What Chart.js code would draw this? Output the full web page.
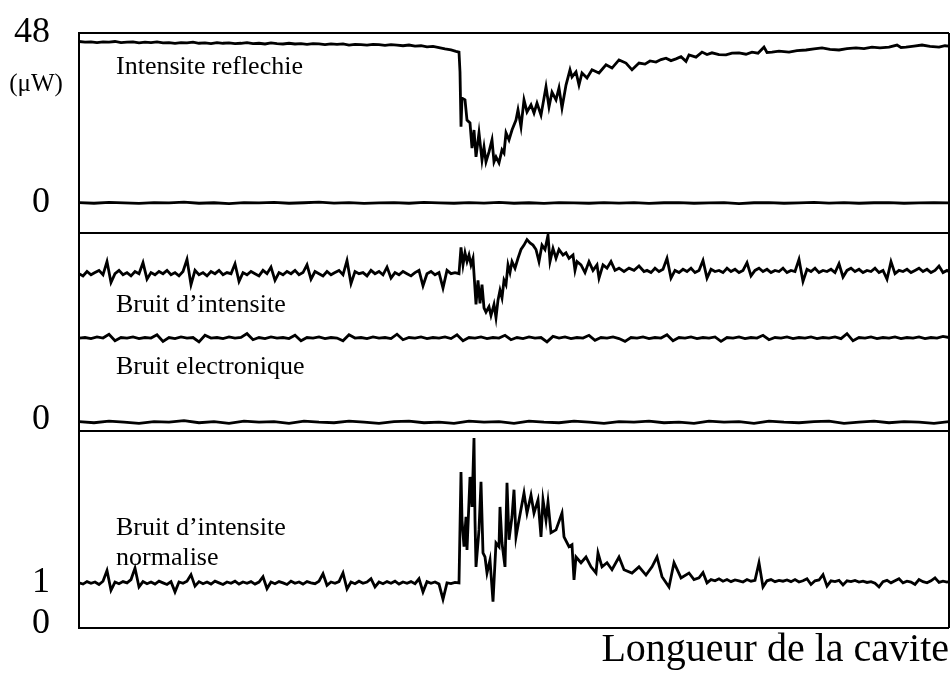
<!DOCTYPE html>
<html>
<head>
<meta charset="utf-8">
<title>Bruit d'intensite</title>
<style>
  * { margin: 0; padding: 0; box-sizing: border-box; }
  body { background: #fff; }
  #box { width: 951px; height: 675px; }
</style>
</head>
<body>
<div id="box"><canvas id="cavite"></canvas></div>
<script src="https://cdn.jsdelivr.net/npm/chart.js@4"></script>
<script>
// [position le long de la cavite, valeur] pour chaque trace

// panneau du haut : intensite reflechie (uW) et son zero
const reflechie = [
  [0,45.6],[6,45.4],[12,45.5],[18,45.3],[24,45.5],[30,45.4],[36,45.6],[42,45.3],[48,45.4],[54,45.5],
  [60,45.2],[66,45.4],[72,45.3],[78,45.5],[84,45.2],[90,45.3],[96,45.1],[102,45.3],[108,45.2],[114,45.4],
  [120,45.1],[126,45.2],[132,45.0],[138,45.3],[144,45.1],[150,45.2],[156,45.0],[162,45.1],[168,45.3],[174,45.0],
  [180,45.1],[186,44.9],[192,45.2],[198,45.0],[204,44.9],[210,45.1],[216,44.9],[222,45.0],[228,44.8],[234,45.0],
  [240,44.9],[246,44.7],[252,44.9],[258,44.8],[264,44.9],[270,44.6],[276,44.8],[282,44.7],[288,44.6],[294,44.8],
  [300,44.7],[306,44.5],[312,44.7],[318,44.6],[324,44.4],[330,44.6],[336,44.3],[342,44.4],[348,44.1],[354,44.2],
  [360,43.9],[366,43.5],[372,43.2],[377,42.8],
  [380,42.6],[381,37.0],[382,21.5],[383,29.6],[386,29.1],[388,23.4],[391,22.6],[393,15.5],[395,20.6],[397,13.0],
  [400,19.8],[403,12.1],[405,15.8],[407,11.6],[410,14.4],[413,17.8],[415,11.6],[417,13.0],[420,11.3],[423,15.0],
  [425,14.1],[427,19.8],[430,17.8],[433,20.6],[437,23.4],[439,26.3],[442,21.5],[445,29.1],[448,25.7],[452,27.7],
  [455,25.4],[458,28.2],[462,24.8],[467,32.8],[470,27.1],[473,31.3],[477,29.1],[480,32.5],[483,26.8],[487,33.3],
  [491,37.6],[493,35.6],[497,37.0],[500,33.3],[503,36.7],[508,35.3],[513,37.6],[520,36.7],[527,39.0],[533,38.1],
  [540,40.4],[547,39.5],[553,37.6],[560,39.5],[566,39.2],[571,40.1],[577,39.8],[582,40.5],[587,40.9],[592,40.2],
  [597,40.7],[602,41.3],[607,40.0],[610,41.8],[617,41.2],[623,42.6],[628,41.9],[633,42.4],[640,41.9],[647,41.8],
  [653,42.3],[660,42.4],[667,42.0],[673,42.6],[679,42.3],[685,44.0],[688,42.5],[693,42.6],[700,42.9],[710,42.6],
  [718,43.0],[727,43.2],[735,43.5],[743,43.8],[751,43.4],[760,43.2],[768,43.6],[777,43.8],[785,43.6],[793,44.0],
  [801,43.8],[810,44.0],[818,44.6],[822,43.9],[827,44.0],[835,44.3],[843,44.6],[851,44.2],[860,44.0],[866,44.4],
  [870,44.3]
];
const zeroHaut = [
  [0,0.1],[15,-0.1],[30,0.15],[45,0],[60,-0.15],[75,0.1],[90,0],[105,0.2],[120,-0.1],[135,0.05],
  [150,-0.2],[165,0.1],[180,0],[195,0.15],[210,-0.1],[225,0.05],[240,0.2],[255,-0.05],[270,0.1],[285,-0.15],
  [300,0],[315,0.1],[330,-0.1],[345,0.15],[360,0],[375,-0.1],[390,0.1],[405,-0.05],[420,0.15],[435,-0.1],
  [450,0.05],[465,-0.15],[480,0.1],[495,0],[510,-0.1],[525,0.1],[540,-0.05],[555,0.1],[570,-0.15],[585,0.05],
  [600,0.1],[615,-0.1],[630,0],[645,0.1],[660,-0.2],[675,0.05],[690,0.1],[705,-0.1],[720,0],[735,0.15],
  [750,-0.05],[765,0.1],[780,-0.1],[795,0.05],[810,0.1],[825,-0.1],[840,0],[855,0.1],[870,0]
];

// panneau du milieu : bruit d'intensite, bruit electronique et zero
const bruitIntensite = [
  [0,13.3],[4,13.1],[8,13.5],[12,13.2],[16,13.4],[20,13.6],[24,13.2],[28,14.4],[32,12.5],[36,13.3],
  [40,13.6],[44,13.2],[48,13.4],[52,13.1],[56,13.5],[60,13.3],[64,14.3],[68,12.8],[72,13.4],[76,13.2],
  [80,13.5],[84,13.3],[88,13.6],[92,13.2],[96,13.4],[100,13.1],[104,13.5],[108,14.6],[112,12.3],[116,13.6],
  [120,13.2],[124,13.4],[128,13.1],[132,13.5],[136,13.3],[140,13.6],[144,13.2],[148,13.4],[152,13.3],[156,14.2],
  [160,12.6],[164,13.4],[168,13.2],[172,13.5],[176,13.3],[180,13.1],[184,13.6],[188,13.3],[192,13.9],[196,12.7],
  [200,13.4],[204,13.2],[208,13.5],[212,13.3],[216,13.6],[220,13.2],[224,13.4],[228,14.1],[232,12.8],[236,13.5],
  [240,13.3],[244,13.1],[248,13.5],[252,13.2],[256,13.4],[260,13.6],[264,13.2],[268,14.5],[272,12.4],[276,13.5],
  [280,13.3],[284,13.4],[288,13.1],[292,13.6],[296,13.3],[300,13.5],[304,13.2],[308,13.9],[312,12.9],[316,13.4],
  [320,13.2],[324,13.5],[328,13.3],[332,13.1],[336,13.4],[340,13.6],[344,12.2],[348,13.3],[352,13.5],[356,13.2],
  [360,13.4],[364,12.0],[368,13.6],[372,13.3],[376,13.4],[380,13.3],
  [382,15.7],[384,14.1],[386,15.2],[388,14.4],[390,15.0],[392,14.1],[394,14.7],[397,10.5],[399,12.7],[401,10.6],
  [403,12.3],[405,10.2],[407,9.8],[410,10.3],[412,9.5],[415,10.5],[417,9.3],[419,10.9],[421,11.8],[423,11.1],
  [425,12.7],[427,12.3],[429,14.1],[431,13.4],[433,14.4],[436,13.8],[439,14.7],[442,15.5],[445,15.9],[448,16.4],
  [451,16.1],[454,15.9],[457,15.5],[460,14.4],[463,15.9],[466,15.5],[469,16.8],[471,14.4],[474,15.6],[477,14.7],
  [480,15.5],[484,15.0],[487,15.2],[490,14.7],[494,15.0],[496,13.6],[498,14.4],[502,14.1],[506,13.4],[510,14.4],
  [514,13.6],[518,14.1],[520,12.9],[524,14.1],[528,13.8],[532,14.4],[536,13.6],[540,13.8],[545,13.5],[550,13.8],
  [555,13.6],[560,14.0],[565,13.5],
  [568,13.6],[572,13.4],[576,13.8],[580,13.5],[584,13.7],[588,14.7],[592,12.9],[596,13.6],[600,13.4],[604,13.7],
  [608,13.5],[612,13.8],[616,13.4],[620,13.6],[624,14.5],[628,12.9],[632,13.7],[636,13.5],[640,13.6],[644,13.4],
  [648,13.8],[652,13.5],[656,13.7],[660,13.4],[664,13.6],[668,14.3],[672,13.1],[676,13.6],[680,13.8],[684,13.5],
  [688,13.7],[692,13.4],[696,13.6],[700,13.5],[704,13.8],[708,13.4],[712,13.6],[716,13.5],[720,14.6],[724,12.6],
  [728,13.7],[732,13.5],[736,13.8],[740,13.4],[744,13.6],[748,13.5],[752,13.7],[756,13.4],[760,14.2],[764,13.0],
  [768,13.6],[772,13.8],[776,13.5],[780,13.7],[784,13.4],[788,13.6],[792,13.5],[796,13.8],[800,13.4],[804,13.6],
  [808,12.8],[812,14.4],[816,13.3],[820,13.6],[824,13.5],[828,13.7],[832,13.4],[836,13.6],[840,13.8],[844,13.5],
  [848,13.7],[852,13.4],[856,13.6],[860,14.0],[864,13.4],[868,13.6],[870,13.5]
];
const bruitElectronique = [
  [0,7.45],[6,7.5],[12,7.4],[18,7.55],[24,7.45],[30,7.8],[36,7.2],[42,7.5],[48,7.45],[54,7.55],
  [60,7.4],[66,7.5],[72,7.45],[78,7.75],[84,7.15],[90,7.5],[96,7.4],[102,7.55],[108,7.45],[114,7.5],
  [120,7.1],[126,7.7],[132,7.45],[138,7.5],[144,7.4],[150,7.55],[156,7.45],[162,7.5],[168,7.85],[174,7.3],
  [180,7.5],[186,7.4],[192,7.55],[198,7.45],[204,7.5],[210,7.4],[216,7.7],[222,7.2],[228,7.5],[234,7.45],
  [240,7.55],[246,7.4],[252,7.5],[258,7.45],[264,7.2],[270,7.75],[276,7.45],[282,7.5],[288,7.4],[294,7.55],
  [300,7.45],[306,7.5],[312,7.4],[318,7.8],[324,7.3],[330,7.5],[336,7.45],[342,7.55],[348,7.4],[354,7.5],
  [360,7.45],[366,7.55],[372,7.4],[378,7.75],[384,7.2],[390,7.5],[396,7.45],[402,7.55],[408,7.4],[414,7.5],
  [420,7.45],[426,7.7],[432,7.3],[438,7.5],[444,7.4],[450,7.55],[456,7.45],[462,7.5],[468,7.1],[474,7.6],
  [480,7.45],[486,7.55],[492,7.4],[498,7.5],[504,7.45],[510,7.7],[516,7.25],[522,7.5],[528,7.45],[534,7.55],
  [540,7.4],[546,7.15],[552,7.5],[558,7.45],[564,7.55],[570,7.4],[576,7.5],[582,7.45],[588,7.75],[594,7.2],
  [600,7.5],[606,7.45],[612,7.55],[618,7.4],[624,7.5],[630,7.45],[636,7.55],[642,7.15],[648,7.5],[654,7.45],
  [660,7.55],[666,7.4],[672,7.5],[678,7.45],[684,7.7],[690,7.3],[696,7.5],[702,7.45],[708,7.55],[714,7.4],
  [720,7.5],[726,7.45],[732,7.55],[738,7.4],[744,7.5],[750,7.45],[756,7.55],[762,7.4],[768,7.85],[774,7.2],
  [780,7.5],[786,7.45],[792,7.55],[798,7.4],[804,7.5],[810,7.45],[816,7.55],[822,7.4],[828,7.5],[834,7.45],
  [840,7.55],[846,7.4],[852,7.5],[858,7.45],[864,7.6],[870,7.5]
];
const zeroMilieu = [
  [0,-0.15],[15,-0.25],[30,-0.1],[45,-0.2],[60,-0.3],[75,-0.15],[90,-0.2],[105,-0.05],[120,-0.25],[135,-0.15],
  [150,-0.3],[165,-0.1],[180,-0.2],[195,-0.15],[210,-0.3],[225,-0.1],[240,-0.2],[255,-0.25],[270,-0.1],[285,-0.2],
  [300,-0.3],[315,-0.15],[330,-0.1],[345,-0.25],[360,-0.2],[375,-0.3],[390,-0.1],[405,-0.2],[420,-0.15],[435,-0.3],
  [450,-0.1],[465,-0.2],[480,-0.25],[495,-0.1],[510,-0.2],[525,-0.3],[540,-0.15],[555,-0.2],[570,-0.1],[585,-0.25],
  [600,-0.2],[615,-0.3],[630,-0.1],[645,-0.2],[660,-0.15],[675,-0.3],[690,-0.1],[705,-0.2],[720,-0.25],[735,-0.15],
  [750,-0.1],[765,-0.3],[780,-0.2],[795,-0.1],[810,-0.25],[825,-0.15],[840,-0.2],[855,-0.3],[870,-0.15]
];

// panneau du bas : bruit d'intensite normalise
const bruitNormalise = [
  [0,1.0],[4,0.97],[8,1.03],[12,0.99],[16,1.02],[20,0.96],[24,1.04],[28,1.3],[32,0.82],[36,1.02],
  [40,0.98],[44,1.03],[48,1.0],[52,1.08],[56,1.36],[60,0.9],[64,1.03],[68,0.98],[72,1.02],[76,0.97],
  [80,1.04],[84,1.0],[88,0.96],[92,1.03],[96,0.78],[100,1.02],[104,0.99],[108,1.04],[112,1.2],[116,0.92],
  [120,1.03],[124,0.98],[128,1.02],[132,0.97],[136,1.04],[140,1.0],[144,0.96],[148,1.02],[152,0.99],[156,1.04],
  [160,0.97],[164,1.02],[168,0.99],[172,1.03],[176,0.97],[180,1.02],[184,1.15],[188,0.86],[192,1.02],[196,0.98],
  [200,1.03],[204,1.0],[208,0.96],[212,1.04],[216,0.99],[220,1.02],[224,0.97],[228,1.03],[232,1.0],[236,0.98],
  [240,1.04],[244,1.22],[248,0.94],[252,1.02],[256,0.99],[260,1.03],[264,1.24],[268,0.85],[272,1.02],[276,0.98],
  [280,1.04],[284,0.99],[288,1.02],[292,1.1],[296,0.9],[300,1.02],[304,0.98],[308,1.03],[312,0.99],[316,1.04],
  [320,0.97],[324,1.02],[328,0.99],[332,1.03],[336,0.98],[340,1.1],[344,0.78],[348,1.03],[352,0.99],[356,1.02],
  [360,0.97],[364,0.6],[368,1.0],[372,0.98],[376,1.01],[380,1.0],
  [382,3.70],[383,2.53],[385,1.88],[387,2.61],[388,1.80],[391,3.58],[393,2.85],[395,4.53],[396,2.53],[397,1.39],
  [400,2.29],[402,3.46],[404,1.73],[406,1.63],[408,1.24],[411,1.56],[414,0.54],[417,1.97],[420,1.88],[421,2.85],
  [423,1.97],[426,1.39],[428,3.44],[430,2.05],[433,2.61],[435,3.27],[437,2.12],[440,2.53],[445,3.19],[448,2.70],
  [452,3.14],[455,2.70],[459,3.02],[462,2.12],[464,3.02],[467,2.53],[469,2.97],[472,2.22],[477,2.29],[483,2.70],
  [485,2.12],[490,1.88],[493,1.93],[495,1.07],[497,1.63],[502,1.49],[507,1.63],[512,1.39],[517,1.24],[519,1.73],
  [523,1.39],[528,1.49],[533,1.32],[540,1.63],[545,1.32],[553,1.24],[560,1.39],[567,1.19],[573,1.39],[578,1.63],
  [583,1.15],[590,0.90],[595,1.49],[602,1.12],[610,1.24],[615,1.08],
  [620,1.12],[624,1.25],[628,1.0],[632,1.08],[636,1.05],[640,1.1],[644,1.04],[648,1.08],[652,1.03],[656,1.07],
  [660,1.05],[664,1.02],[668,1.08],[672,1.04],[676,1.06],[680,1.49],[684,0.9],[688,1.05],[692,1.08],[696,1.03],
  [700,1.06],[704,1.04],[708,1.07],[712,1.03],[716,1.08],[720,1.02],[724,1.05],[728,1.1],[732,0.96],[736,1.05],
  [740,1.07],[744,1.2],[748,0.92],[752,1.05],[756,1.03],[760,1.06],[764,0.95],[768,1.05],[772,1.03],[776,1.06],
  [780,1.02],[784,1.04],[788,1.01],[792,1.03],[796,0.99],[800,0.9],[804,1.03],[808,1.06],[812,1.0],[816,1.05],
  [820,1.1],[824,1.0],[828,1.04],[832,1.02],[836,0.96],[840,1.08],[844,1.03],[848,1.0],[852,1.05],[856,1.12],
  [860,1.01],[864,1.04],[868,1.02],[870,1.03]
];

// graduations de chaque panneau
const ticksHaut = [0, 48];
const ticksMilieu = [0];
const ticksBas = [0, 1];

// textes poses dans les panneaux
const etiquettes = [
  { axe: 'haut', x: 37, y: 36.4, texte: 'Intensite reflechie' },
  { axe: 'milieu', x: 37, y: 9.8, texte: 'Bruit d\u2019intensite' },
  { axe: 'milieu', x: 37, y: 4.2, texte: 'Bruit electronique' },
  { axe: 'bas', x: 37, y: 2.17, texte: 'Bruit d\u2019intensite' },
  { axe: 'bas', x: 37, y: 1.44, texte: 'normalise' }
];

const serif = 'Liberation Serif';

function trace(points, axe) {
  return {
    data: points.map(p => ({ x: p[0], y: p[1] })),
    yAxisID: axe,
    borderColor: '#000',
    borderWidth: 2.8,
    pointRadius: 0,
    tension: 0,
    fill: false
  };
}

function axeY(ticks, min, max, poids) {
  return {
    type: 'linear',
    position: 'left',
    stack: 'panneaux',
    stackWeight: poids,
    min: min,
    max: max,
    grid: { display: false, drawTicks: false },
    border: { display: true, color: '#000', width: 2 },
    ticks: {
      autoSkip: false,
      padding: 29,
      color: '#000',
      font: { family: serif, size: 36 },
      callback: v => String(v)
    },
    afterBuildTicks: s => { s.ticks = ticks.map(v => ({ value: v })); },
    // largeur fixe, et pas de marge ajoutee pour les etiquettes
    afterFit: s => { s.width = 79; s.paddingTop = 0; s.paddingBottom = 0; }
  };
}

// cadre des trois panneaux et textes
const cadre = {
  id: 'cadre',
  afterDatasetsDraw(chart) {
    const { ctx, chartArea: a, scales } = chart;
    ctx.save();
    ctx.strokeStyle = '#000';
    ctx.lineWidth = 2;
    ctx.beginPath();
    ['haut', 'milieu', 'bas'].forEach(id => {
      ctx.moveTo(a.left, scales[id].top);
      ctx.lineTo(a.right, scales[id].top);
    });
    ctx.moveTo(a.left, a.bottom);
    ctx.lineTo(a.right, a.bottom);
    ctx.moveTo(a.right, a.top);
    ctx.lineTo(a.right, a.bottom);
    ctx.stroke();

    ctx.fillStyle = '#000';
    ctx.font = '26px "' + serif + '"';
    ctx.textAlign = 'left';
    ctx.textBaseline = 'alphabetic';
    etiquettes.forEach(e => {
      ctx.fillText(e.texte, scales.x.getPixelForValue(e.x), scales[e.axe].getPixelForValue(e.y));
    });

    // unite du panneau du haut
    ctx.font = '25px "' + serif + '"';
    ctx.textAlign = 'center';
    ctx.textBaseline = 'middle';
    ctx.fillText('(\u03bcW)', 36, scales.haut.getPixelForValue(33.5));
    ctx.restore();
  }
};

new Chart(document.getElementById('cavite'), {
  type: 'line',
  data: {
    datasets: [
      trace(reflechie, 'haut'),
      trace(zeroHaut, 'haut'),
      trace(bruitIntensite, 'milieu'),
      trace(bruitElectronique, 'milieu'),
      trace(zeroMilieu, 'milieu'),
      trace(bruitNormalise, 'bas')
    ]
  },
  options: {
    responsive: true,
    maintainAspectRatio: false,
    animation: false,
    layout: { padding: { top: 33, right: 2, bottom: 0, left: 0 } },
    plugins: {
      legend: { display: false },
      tooltip: { enabled: false }
    },
    scales: {
      x: {
        type: 'linear',
        min: 0,
        max: 870,
        grid: { display: false, drawTicks: false },
        border: { display: false },
        ticks: { display: false },
        title: {
          display: true,
          text: 'Longueur de la cavite',
          align: 'end',
          color: '#000',
          font: { family: serif, size: 40, lineHeight: 1 },
          padding: { top: 0, bottom: 5 }
        },
        afterFit: s => { s.height = 47; }
      },
      bas: axeY(ticksBas, -0.1, 4.7, 197),
      milieu: axeY(ticksMilieu, -1, 17, 198),
      haut: axeY(ticksHaut, -8.5, 48, 200)
    }
  },
  plugins: [cadre]
});
</script>
</body>
</html>
